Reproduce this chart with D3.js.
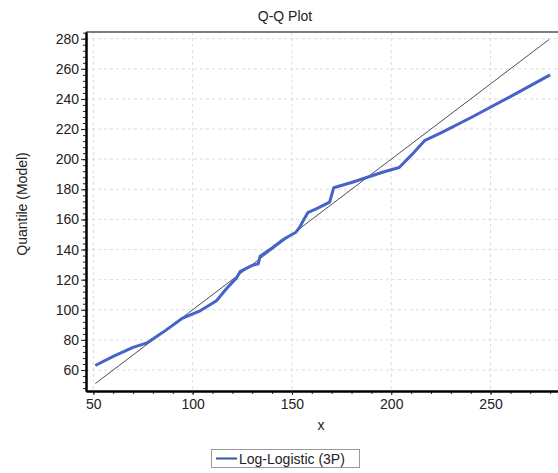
<!DOCTYPE html>
<html><head><meta charset="utf-8">
<script src="https://cdn.jsdelivr.net/npm/d3@7"></script>
<style>body{margin:0;background:#fff;} svg{display:block;font-family:"Liberation Sans",Arial,sans-serif;}</style>
</head><body>
<svg id="c" width="558" height="473"></svg>
<script>
const qqX = [51, 60, 70, 77, 85, 95, 104, 112, 117, 122, 124, 130, 133, 134, 140, 146, 152, 154, 156, 158, 163, 169, 171, 180, 188, 196, 204, 210, 217, 225, 240, 260, 280];
const qqY = [63, 69, 75, 78, 85, 94.5, 99.5, 106, 114, 121, 125.5, 129.5, 130.5, 135.5, 141, 147, 151.5, 155, 160, 164.5, 167.5, 171.5, 181, 184.5, 188, 191.5, 194.5, 202.5, 212.5, 217.5, 227.5, 241.5, 256];
const refLine = [51, 279.5];
const xTicks = [50, 100, 150, 200, 250];
const yTicks = [60, 80, 100, 120, 140, 160, 180, 200, 220, 240, 260, 280];
const seriesName = "Log-Logistic (3P)";

const svg = d3.select("#c");
const L = 86, T = 32, B = 391, R = 566;
const x = d3.scaleLinear().domain([46.3, 288]).range([L, R]);
const y = d3.scaleLinear().domain([46.06, 284.45]).range([B, T]);

// grid
const g = svg.append("g");
g.selectAll(".gx").data(xTicks).join("line")
  .attr("x1", d => x(d)).attr("x2", d => x(d)).attr("y1", T).attr("y2", B)
  .attr("stroke", "#dcdcdc").attr("stroke-dasharray", "3,3");
g.selectAll(".gy").data(yTicks).join("line")
  .attr("x1", L).attr("x2", R).attr("y1", d => y(d)).attr("y2", d => y(d))
  .attr("stroke", "#dcdcdc").attr("stroke-dasharray", "3,3");

// clip
svg.append("clipPath").attr("id", "cp").append("rect").attr("x", L).attr("y", T).attr("width", R - L).attr("height", B - T);
const plot = svg.append("g").attr("clip-path", "url(#cp)");

plot.append("line")
  .attr("x1", x(refLine[0])).attr("y1", y(refLine[0])).attr("x2", x(refLine[1])).attr("y2", y(refLine[1]))
  .attr("stroke", "#333a50").attr("stroke-width", 0.9);

const pts = qqX.map((v, i) => [v, qqY[i]]);
plot.append("path").datum(pts)
  .attr("d", d3.line().x(d => x(d[0])).y(d => y(d[1])))
  .attr("fill", "none").attr("stroke", "#4563c9").attr("stroke-width", 3).attr("stroke-linejoin", "round");

// frame top
svg.append("line").attr("x1", L).attr("x2", 558).attr("y1", T).attr("y2", T).attr("stroke", "#555").attr("stroke-width", 1.5);

// axes
const xAxis = d3.axisBottom(x).tickValues(xTicks).tickSize(4).tickSizeOuter(0).tickPadding(4);
const xMinor = d3.axisBottom(x).tickValues(d3.range(50, 290, 10)).tickSize(3).tickFormat("").tickSizeOuter(0);
const yAxis = d3.axisLeft(y).tickValues(yTicks).tickSize(5).tickSizeOuter(0).tickPadding(2);
const yMinor = d3.axisLeft(y).tickValues(d3.range(48, 285, 4)).tickSize(3).tickFormat("").tickSizeOuter(0);

function style(sel) {
  sel.select(".domain").attr("stroke", "#000").attr("stroke-width", 2);
  sel.selectAll(".tick line").attr("stroke", "#222");
  sel.selectAll("text").attr("font-size", 14).attr("fill", "#222").attr("font-family", "Liberation Sans, Arial, sans-serif");
}
svg.append("g").attr("transform", `translate(0,${B})`).call(xMinor).call(style);
svg.append("g").attr("transform", `translate(0,${B})`).call(xAxis).call(style);
svg.append("g").attr("transform", `translate(${L},0)`).call(yMinor).call(style);
svg.append("g").attr("transform", `translate(${L},0)`).call(yAxis).call(style);

// titles
svg.append("text").attr("x", 285).attr("y", 21).attr("text-anchor", "middle").attr("font-size", 14).attr("fill", "#222").text("Q-Q Plot");
svg.append("text").attr("x", 321).attr("y", 430).attr("text-anchor", "middle").attr("font-size", 14).attr("fill", "#222").text("x");
svg.append("text").attr("transform", "translate(27,204) rotate(-90)").attr("text-anchor", "middle").attr("font-size", 14).attr("fill", "#222").text("Quantile (Model)");

// legend
const lg = svg.append("g");
lg.append("rect").attr("x", 211.5).attr("y", 449.5).attr("width", 148).attr("height", 18).attr("fill", "#fff").attr("stroke", "#999");
lg.append("line").attr("x1", 216).attr("x2", 237).attr("y1", 458.5).attr("y2", 458.5).attr("stroke", "#34559a").attr("stroke-width", 2);
lg.append("text").attr("x", 239).attr("y", 463.5).attr("font-size", 14).attr("fill", "#222").text(seriesName);
</script>
</body></html>
